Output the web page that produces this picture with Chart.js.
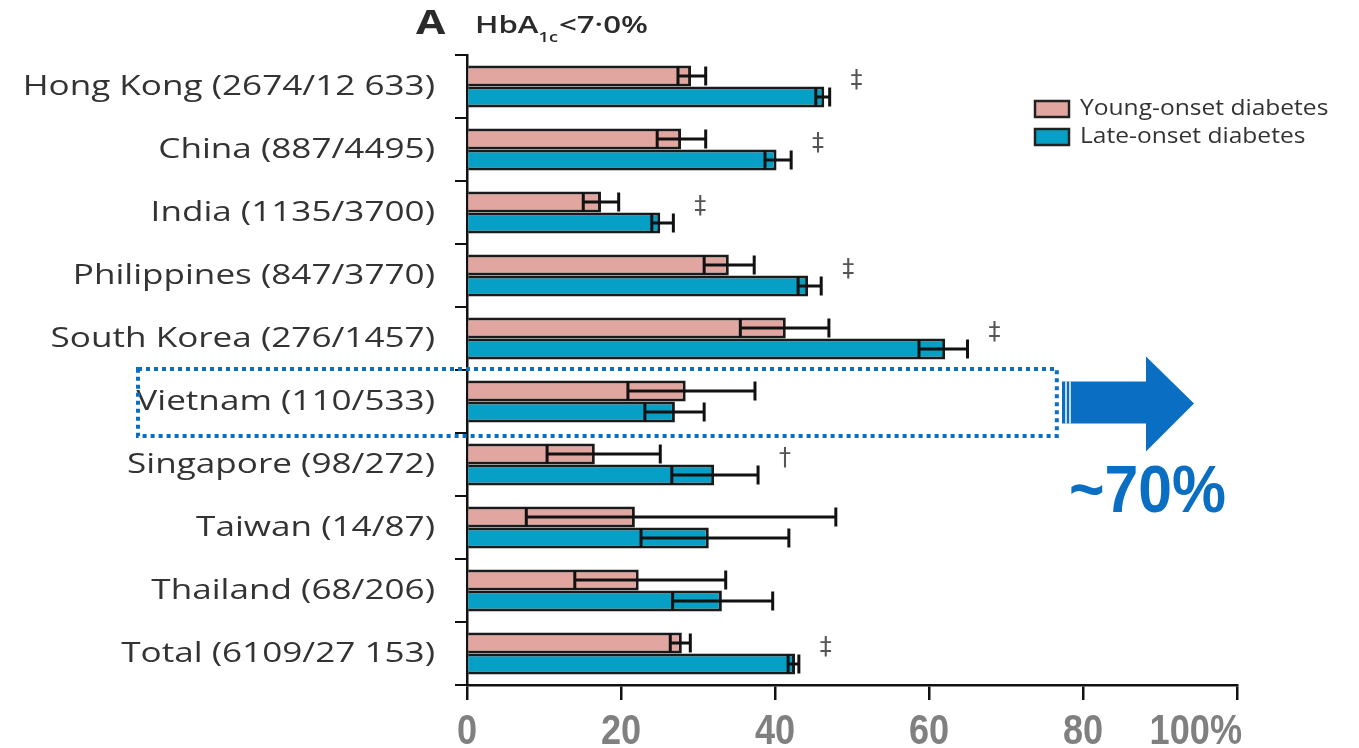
<!DOCTYPE html>
<html lang="en">
<head>
  <meta charset="UTF-8">
  <title>HbA1c &lt; 7.0%</title>
  <script src="https://cdn.jsdelivr.net/npm/chart.js"></script>
  <style>
    body { margin: 0; background: #fff; }
    #wrap { width: 1359px; height: 748px; position: relative; }
  </style>
</head>
<body>
  <div id="wrap"><canvas id="chart"></canvas></div>

  <script>
    const countries = ['Hong Kong (2674/12 633)', 'China (887/4495)', 'India (1135/3700)', 'Philippines (847/3770)',
      'South Korea (276/1457)', 'Vietnam (110/533)', 'Singapore (98/272)', 'Taiwan (14/87)',
      'Thailand (68/206)', 'Total (6109/27 153)'];

    // young-onset: bar value, lower and upper CI
    const young     = [29.1, 27.8, 17.4, 34.0, 41.4, 28.4, 16.6, 21.8, 22.3, 27.9];
    const youngLow  = [27.4, 24.7, 15.1, 30.8, 35.5, 20.9, 10.4, 7.7, 14.0, 26.4];
    const youngHigh = [31.0, 31.0, 19.7, 37.3, 47.0, 37.4, 25.1, 47.9, 33.6, 29.0];

    // late-onset
    const late     = [46.4, 40.2, 25.1, 44.3, 62.1, 27.0, 32.1, 31.4, 33.1, 42.6];
    const lateLow  = [45.3, 38.7, 24.0, 43.0, 58.7, 23.1, 26.6, 22.6, 26.7, 41.7];
    const lateHigh = [47.1, 42.1, 26.8, 46.0, 65.0, 30.8, 37.8, 41.8, 39.7, 43.1];

    const signif = ['‡', '‡', '‡', '‡', '‡', '', '†', '', '', '‡'];
    const xTicks = [0, 20, 40, 60, 80, 100];
    const xTickLabels = ['0', '20', '40', '60', '80', '100%'];
    const highlight = 'Vietnam (110/533)';
    const callout = '~70%';

    const PINK = '#e2a6a0';
    const BLUE = '#06a0c6';
    const labelFont = '"Open Sans", "DejaVu Sans", sans-serif';
    const boldFont = '"Liberation Sans", Arial, sans-serif';

    // the original figure is stretched sideways, so text is drawn with a horizontal scale
    function wideText(ctx, text, x, y, sx, align) {
      ctx.save();
      ctx.translate(x, y);
      ctx.scale(sx, 1);
      ctx.textAlign = align;
      ctx.fillText(text, 0, 0);
      ctx.restore();
      return ctx.measureText(text).width * sx;
    }

    const errorBars = {
      id: 'errorBars',
      afterDatasetsDraw(chart) {
        const ctx = chart.ctx;
        const x = chart.scales.x;
        const ranges = [[youngLow, youngHigh], [lateLow, lateHigh]];
        ctx.save();
        ctx.strokeStyle = '#111';
        ctx.lineWidth = 3;
        ranges.forEach((r, di) => {
          chart.getDatasetMeta(di).data.forEach((bar, i) => {
            const h = bar.height / 2 - 1;
            const lo = x.getPixelForValue(r[0][i]);
            const hi = x.getPixelForValue(r[1][i]);
            ctx.beginPath();
            ctx.moveTo(lo, bar.y - h); ctx.lineTo(lo, bar.y + h);
            ctx.moveTo(lo, bar.y); ctx.lineTo(hi, bar.y);
            ctx.moveTo(hi, bar.y - h); ctx.lineTo(hi, bar.y + h);
            ctx.stroke();
          });
        });
        // significance marks
        const y = chart.scales.y;
        ctx.fillStyle = '#555';
        ctx.font = '24px "DejaVu Sans", sans-serif';
        ctx.textAlign = 'center';
        ctx.textBaseline = 'middle';
        signif.forEach((s, i) => {
          if (!s) return;
          const top = Math.max(lateHigh[i], youngHigh[i]);
          ctx.fillText(s, x.getPixelForValue(top + 3.5), y.getPixelForValue(i) - 6);
        });
        ctx.restore();
      }
    };

    const decorations = {
      id: 'decorations',
      afterDraw(chart) {
        const ctx = chart.ctx;
        const x = chart.scales.x;
        const y = chart.scales.y;
        ctx.save();

        // category labels
        ctx.fillStyle = '#333';
        ctx.font = '27px ' + labelFont;
        ctx.textBaseline = 'middle';
        countries.forEach((c, i) => wideText(ctx, c, 435, y.getPixelForValue(i) + 1, 1.3, 'right'));

        // x tick labels
        ctx.fillStyle = '#808080';
        ctx.font = 'bold 42px ' + boldFont;
        ctx.textBaseline = 'alphabetic';
        xTicks.forEach((v, i) => {
          const last = i === xTicks.length - 1;
          wideText(ctx, xTickLabels[i], x.getPixelForValue(v) + (last ? 5 : 0), 744, 0.86, last ? 'right' : 'center');
        });

        // title
        ctx.fillStyle = '#2b2b2b';
        ctx.textBaseline = 'alphabetic';
        ctx.font = 'bold 34px ' + labelFont;
        wideText(ctx, 'A', 416, 34, 1.25, 'left');
        ctx.font = '600 24px ' + labelFont;
        let px = 475;
        px += wideText(ctx, 'HbA', px, 33, 1.3, 'left');
        ctx.font = '600 14px ' + labelFont;
        px += wideText(ctx, '1c', px, 42, 1.3, 'left');
        ctx.font = '600 24px ' + labelFont;
        wideText(ctx, '<7·0%', px + 1, 33, 1.3, 'left');

        // legend
        const items = [['Young-onset diabetes', PINK], ['Late-onset diabetes', BLUE]];
        items.forEach((it, i) => {
          const top = 101 + i * 28;
          ctx.fillStyle = it[1];
          ctx.fillRect(1035, top, 34, 16);
          ctx.strokeStyle = '#222';
          ctx.lineWidth = 2.5;
          ctx.strokeRect(1035, top, 34, 16);
          ctx.fillStyle = '#333';
          ctx.font = '21px ' + labelFont;
          ctx.textBaseline = 'middle';
          wideText(ctx, it[0], 1080, top + 8, 1.17, 'left');
        });

        // dotted highlight box
        const idx = countries.indexOf(highlight);
        const half = (y.getPixelForValue(1) - y.getPixelForValue(0)) / 2;
        const cy = y.getPixelForValue(idx);
        ctx.strokeStyle = '#0a6fc2';
        ctx.lineWidth = 4;
        ctx.setLineDash([4, 4]);
        ctx.strokeRect(138, cy - half - 1, x.getPixelForValue(76.6) - 138, half * 2 + 4);
        ctx.setLineDash([]);

        // arrow
        ctx.fillStyle = '#0a6fc2';
        ctx.beginPath();
        ctx.moveTo(1062, cy - 20);
        ctx.lineTo(1146, cy - 20);
        ctx.lineTo(1146, cy - 45);
        ctx.lineTo(1194, cy + 2);
        ctx.lineTo(1146, cy + 50);
        ctx.lineTo(1146, cy + 22);
        ctx.lineTo(1062, cy + 22);
        ctx.closePath();
        ctx.fill();
        ctx.strokeStyle = '#fff';
        ctx.lineWidth = 1.5;
        [1066, 1070].forEach(p => {
          ctx.beginPath(); ctx.moveTo(p, cy - 20); ctx.lineTo(p, cy + 22); ctx.stroke();
        });

        // callout text
        ctx.fillStyle = '#0a6fc2';
        ctx.font = 'bold 66px ' + boldFont;
        ctx.textBaseline = 'alphabetic';
        wideText(ctx, callout, 1069, 512, 0.92, 'left');

        ctx.restore();
      }
    };

    new Chart(document.getElementById('chart'), {
      type: 'bar',
      data: {
        labels: countries,
        datasets: [
          { label: 'Young-onset diabetes', data: young, backgroundColor: PINK },
          { label: 'Late-onset diabetes', data: late, backgroundColor: BLUE }
        ]
      },
      options: {
        indexAxis: 'y',
        responsive: true,
        maintainAspectRatio: false,
        animation: false,
        layout: { padding: { top: 55, right: 122, left: 0, bottom: 0 } },
        datasets: {
          bar: {
            borderColor: '#1a1a1a',
            borderWidth: 3,
            borderSkipped: 'start',
            categoryPercentage: 0.67,
            barPercentage: 1.0
          }
        },
        plugins: {
          legend: { display: false },
          tooltip: { enabled: false }
        },
        scales: {
          x: {
            min: 0,
            max: 100,
            afterBuildTicks: s => { s.ticks = xTicks.map(v => ({ value: v })); },
            afterFit: s => { s.height = 63; },
            border: { display: true, color: '#111', width: 2.5 },
            grid: { drawOnChartArea: false, drawTicks: true, tickLength: 15, color: '#111', lineWidth: 2.5 },
            ticks: { display: false }
          },
          y: {
            afterFit: s => { s.width = 467; },
            border: { display: true, color: '#111', width: 2.5 },
            grid: { offset: true, drawOnChartArea: false, drawTicks: true, tickLength: 12, color: '#111', lineWidth: 2 },
            ticks: { display: false }
          }
        }
      },
      plugins: [errorBars, decorations]
    });
  </script>
</body>
</html>
